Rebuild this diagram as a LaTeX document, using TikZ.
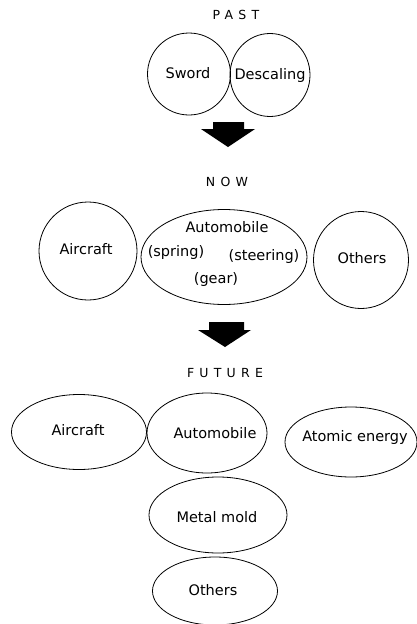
\documentclass[tikz,border=0pt]{standalone}
\usepackage{fontspec}
\setmainfont{DejaVu Sans}
\newfontfamily\spacedfont[LetterSpace=42]{DejaVu Sans}
\usetikzlibrary{shapes.geometric}
\begin{document}
\begin{tikzpicture}[x=1pt,y=-1pt,
  bub/.style={draw, ellipse, line width=0.8pt, inner sep=0pt},
  txt/.style={font=\fontsize{14.5}{17}\selectfont, inner sep=0pt},
  era/.style={font=\fontsize{12.5}{15}\selectfont\spacedfont, inner sep=0pt},
  blockarrow/.style={fill=black}]
\useasboundingbox (0,0) rectangle (417,624);

% ---------- PAST ----------
\node[era] (past) at (236,15) {PAST};
\node[bub, minimum width=83, minimum height=82] (sword) at (189,74) {};
\node[txt] (swordt) at (188,73) {Sword};
\node[bub, minimum width=80, minimum height=83] (desc) at (270,75) {};
\node[txt] (desct) at (270,75) {Descaling};

\fill[blockarrow] (213,122) -- (244,122) -- (244,129) -- (255,129) -- (228,147)
  -- (201,129) -- (213,129) -- cycle;

% ---------- NOW ----------
\node[era] (now) at (227,182) {NOW};
\node[bub, minimum width=98, minimum height=98] (nair) at (88,251) {};
\node[txt] (nairt) at (86,249) {Aircraft};
\node[bub, minimum width=166, minimum height=95] (nauto) at (224,257) {};
\node[txt] (nautot) at (227,227) {Automobile};
\node[txt] (spring) at (176,252) {(spring)};
\node[txt] (steer) at (264,256) {(steering)};
\node[txt] (gear) at (216,280) {(gear)};
\node[bub, minimum width=95, minimum height=97] (noth) at (361,260) {};
\node[txt] (notht) at (362,258) {Others};

\fill[blockarrow] (209,322) -- (244,322) -- (244,330) -- (251,330) -- (225,347)
  -- (198,330) -- (209,330) -- cycle;

% ---------- FUTURE ----------
\node[era] (future) at (225,373) {FUTURE};
\node[bub, minimum width=135, minimum height=75] (fair) at (79,432) {};
\node[txt] (fairt) at (78,430) {Aircraft};
\node[bub, minimum width=120, minimum height=80] (fauto) at (207,433) {};
\node[txt] (fautot) at (215,433) {Automobile};
\node[bub, minimum width=132, minimum height=70] (fatom) at (351,442) {};
\node[txt] (fatomt) at (355,437) {Atomic energy};
\node[bub, minimum width=138, minimum height=76] (fmold) at (218,515) {};
\node[txt] (fmoldt) at (217,517) {Metal mold};
\node[bub, minimum width=125, minimum height=68] (foth) at (215,591) {};
\node[txt] (fotht) at (213,590) {Others};
\end{tikzpicture}
\end{document}
